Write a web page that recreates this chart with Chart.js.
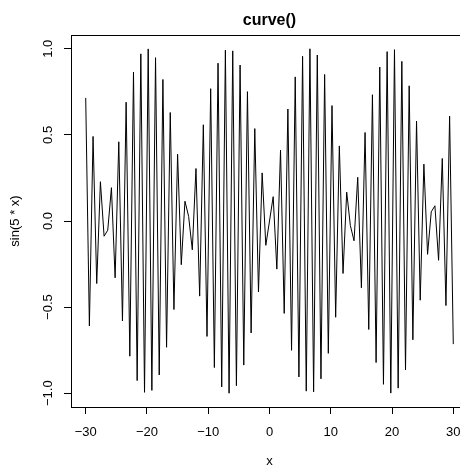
<!DOCTYPE html>
<html>
<head>
<meta charset="utf-8">
<script src="https://cdn.jsdelivr.net/npm/chart.js@4"></script>
<style>
  html, body { margin: 0; padding: 0; background: #fff; overflow: hidden; }
  #wrap { width: 480px; height: 468px; }
</style>
</head>
<body>
<div id="wrap"><canvas id="curveChart" width="480" height="468"></canvas></div>
<script>
// curve(sin(5 * x), -30, 30) -- 101 points
const xs = [
  -30, -29.4, -28.8, -28.2, -27.6, -27, -26.4, -25.8, -25.2, -24.6,
  -24, -23.4, -22.8, -22.2, -21.6, -21, -20.4, -19.8, -19.2, -18.6,
  -18, -17.4, -16.8, -16.2, -15.6, -15, -14.4, -13.8, -13.2, -12.6,
  -12, -11.4, -10.8, -10.2, -9.6, -9, -8.4, -7.8, -7.2, -6.6,
  -6, -5.4, -4.8, -4.2, -3.6, -3, -2.4, -1.8, -1.2, -0.6,
  0,
  0.6, 1.2, 1.8, 2.4, 3, 3.6, 4.2, 4.8, 5.4, 6,
  6.6, 7.2, 7.8, 8.4, 9, 9.6, 10.2, 10.8, 11.4, 12,
  12.6, 13.2, 13.8, 14.4, 15, 15.6, 16.2, 16.8, 17.4, 18,
  18.6, 19.2, 19.8, 20.4, 21, 21.6, 22.2, 22.8, 23.4, 24,
  24.6, 25.2, 25.8, 26.4, 27, 27.6, 28.2, 28.8, 29.4, 30
];
const ys = [
  0.7149, -0.6091, 0.4910, -0.3632, 0.2281, -0.0884, -0.0531, 0.1935, -0.3300, 0.4599,
  -0.5806, 0.6897, -0.7850, 0.8646, -0.9268, 0.9705, -0.9948, 0.9992, -0.9836, 0.9483,
  -0.8940, 0.8218, -0.7332, 0.6299, -0.5140, 0.3878, -0.2538, 0.1148, 0.0266, -0.1674,
  0.3048, -0.4362, 0.5588, -0.6702, 0.7683, -0.8509, 0.9165, -0.9638, 0.9918, -0.9999,
  0.9880, -0.9564, 0.9056, -0.8367, 0.7510, -0.6503, 0.5366, -0.4121, 0.2794, -0.1411,
  0,
  0.1411, -0.2794, 0.4121, -0.5366, 0.6503, -0.7510, 0.8367, -0.9056, 0.9564, -0.9880,
  0.9999, -0.9918, 0.9638, -0.9165, 0.8509, -0.7683, 0.6702, -0.5588, 0.4362, -0.3048,
  0.1674, -0.0266, -0.1148, 0.2538, -0.3878, 0.5140, -0.6299, 0.7332, -0.8218, 0.8940,
  -0.9483, 0.9836, -0.9992, 0.9948, -0.9705, 0.9268, -0.8646, 0.7850, -0.6897, 0.5806,
  -0.4599, 0.3300, -0.1935, 0.0531, 0.0884, -0.2281, 0.3632, -0.4910, 0.6091, -0.7149
];
const xTicks = [-30, -20, -10, 0, 10, 20, 30];
const yTicks = [-1, -0.5, 0, 0.5, 1];
const xRange = [-32.4, 32.4];
const yRange = [-1.08, 1.08];
const titleText = "curve()";
const xLabel = "x";
const yLabel = "sin(5 * x)";

const FONT = "'Liberation Sans', Arial, Helvetica, sans-serif";
const minus = (s) => s.replace("-", "\u2212");

// box, title, axis labels and rotated y tick labels (R style)
const rFrame = {
  id: "rFrame",
  afterDraw(chart) {
    const c = chart.ctx;
    const a = chart.chartArea;
    const ys_ = chart.scales.y;
    c.save();
    c.strokeStyle = "#000";
    c.lineWidth = 1;
    c.strokeRect(Math.round(a.left) + 0.5, Math.round(a.top) + 0.5,
      Math.round(a.right - a.left), Math.round(a.bottom - a.top));
    c.fillStyle = "#000";
    c.textAlign = "center";
    c.textBaseline = "middle";
    const mid = (a.left + a.right) / 2;
    c.font = "bold 16px " + FONT;
    c.fillText(titleText, mid, 21);
    c.font = "13px " + FONT;
    c.fillText(xLabel, mid, 461);
    yTicks.forEach((v) => {
      c.save();
      c.translate(48, ys_.getPixelForValue(v));
      c.rotate(-Math.PI / 2);
      c.fillText(minus(v.toFixed(1)), 0, 0);
      c.restore();
    });
    c.save();
    c.translate(15, (a.top + a.bottom) / 2);
    c.rotate(-Math.PI / 2);
    c.fillText(yLabel, 0, 0);
    c.restore();
    c.restore();
  }
};

const tickGrid = { drawOnChartArea: false, drawTicks: true, tickLength: 7, color: "#000", lineWidth: 1 };

new Chart(document.getElementById("curveChart"), {
  type: "line",
  data: {
    datasets: [{
      data: xs.map((x, i) => ({ x: x, y: ys[i] })),
      borderColor: "#000",
      borderWidth: 1,
      pointRadius: 0,
      tension: 0,
      fill: false
    }]
  },
  options: {
    responsive: false,
    animation: false,
    devicePixelRatio: 1,
    layout: { padding: { top: 35, right: 12, left: 0, bottom: 0 } },
    plugins: { legend: { display: false }, title: { display: false }, tooltip: { enabled: false } },
    scales: {
      x: {
        type: "linear",
        min: xRange[0],
        max: xRange[1],
        afterBuildTicks: (s) => { s.ticks = xTicks.map((v) => ({ value: v })); },
        afterFit: (s) => { s.height = 61; },
        grid: tickGrid,
        border: { display: false },
        ticks: {
          color: "#000",
          font: { family: FONT, size: 13 },
          padding: 11,
          maxRotation: 0,
          autoSkip: false,
          callback: (v) => minus(String(v))
        }
      },
      y: {
        type: "linear",
        min: yRange[0],
        max: yRange[1],
        afterBuildTicks: (s) => { s.ticks = yTicks.map((v) => ({ value: v })); },
        afterFit: (s) => { s.width = 71; },
        grid: tickGrid,
        border: { display: false },
        ticks: { display: false }
      }
    }
  },
  plugins: [rFrame]
});
</script>
</body>
</html>
